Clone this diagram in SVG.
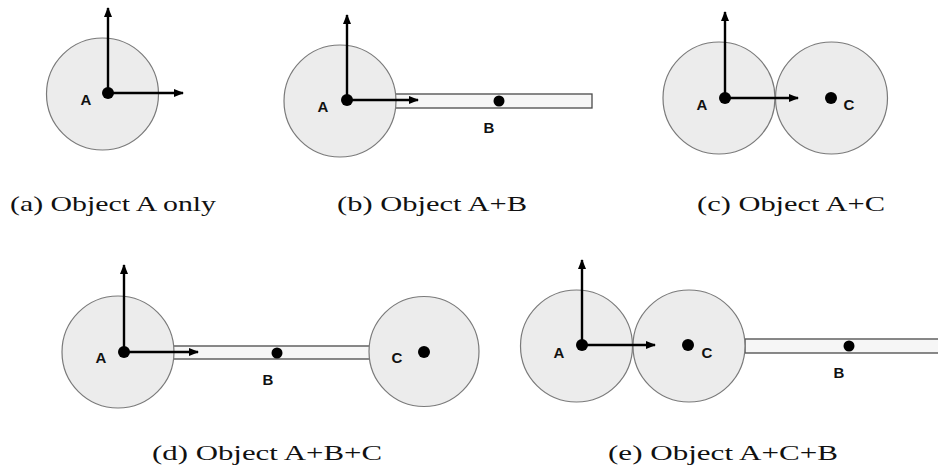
<svg xmlns="http://www.w3.org/2000/svg" width="938" height="470" viewBox="0 0 938 470">
<style>
.disc{fill:#ececec;stroke:#7a7a7a;stroke-width:1.2}
.bar{fill:#f6f6f6;stroke:#4a4a4a;stroke-width:1.3}
.dot{fill:#000}
.ax{stroke:#000;stroke-width:2.4;fill:none;marker-end:url(#ah)}
.lbl{font-family:"Liberation Sans",Arial,sans-serif;font-weight:bold;font-size:15px;fill:#111;text-anchor:middle}
.cap{font-family:"Liberation Serif","Times New Roman",serif;font-size:22px;fill:#111}
</style>
<defs>
<marker id="ah" markerUnits="userSpaceOnUse" markerWidth="10" markerHeight="8" refX="9" refY="4" orient="auto">
<path d="M0,0 L10,4 L0,8 Z" fill="#000"/>
</marker>
</defs>
<rect width="938" height="470" fill="#fff"/>

<g id="panel-a">
<g id="a-A"><circle class="disc" cx="102.5" cy="94" r="56"/><circle class="dot" cx="108" cy="93" r="6"/><text class="lbl" x="86" y="105">A</text></g>
<text class="cap" x="10" y="211" textLength="206" lengthAdjust="spacingAndGlyphs">(a) Object A only</text>
</g>

<g id="panel-b">
<g id="b-B"><rect class="bar" x="395" y="94" width="197" height="14"/><circle class="dot" cx="499" cy="101" r="5.5"/><text class="lbl" x="489" y="133">B</text></g>
<g id="b-A"><circle class="disc" cx="340" cy="101" r="56"/><circle class="dot" cx="347" cy="100" r="6"/><text class="lbl" x="323" y="112">A</text></g>
<text class="cap" x="337" y="211" textLength="190" lengthAdjust="spacingAndGlyphs">(b) Object A+B</text>
</g>

<g id="panel-c">
<g id="c-A"><circle class="disc" cx="719" cy="98" r="56"/><circle class="dot" cx="725" cy="98" r="6"/><text class="lbl" x="702" y="110">A</text></g>
<g id="c-C"><circle class="disc" cx="831.5" cy="98" r="56"/><circle class="dot" cx="831" cy="98" r="6"/><text class="lbl" x="849" y="110">C</text></g>
<text class="cap" x="697" y="211" textLength="188" lengthAdjust="spacingAndGlyphs">(c) Object A+C</text>
</g>

<g id="panel-d">
<g id="d-B"><rect class="bar" x="173" y="346" width="197" height="13"/><circle class="dot" cx="277" cy="353" r="5.5"/><text class="lbl" x="268" y="385">B</text></g>
<g id="d-A"><circle class="disc" cx="118" cy="352" r="56"/><circle class="dot" cx="124" cy="352" r="6"/><text class="lbl" x="101" y="363">A</text></g>
<g id="d-C"><circle class="disc" cx="424" cy="351.5" r="55"/><circle class="dot" cx="424" cy="352" r="6"/><text class="lbl" x="397" y="363">C</text></g>
<text class="cap" x="152" y="460" textLength="230" lengthAdjust="spacingAndGlyphs">(d) Object A+B+C</text>
</g>

<g id="panel-e">
<g id="e-B"><rect class="bar" x="745" y="339" width="200" height="14"/><circle class="dot" cx="849" cy="346" r="5.5"/><text class="lbl" x="839" y="378">B</text></g>
<g id="e-A"><circle class="disc" cx="576.5" cy="346" r="56"/><circle class="dot" cx="582" cy="345" r="6"/><text class="lbl" x="559" y="358">A</text></g>
<g id="e-C"><circle class="disc" cx="689" cy="346" r="56"/><circle class="dot" cx="688" cy="345" r="6"/><text class="lbl" x="707" y="358">C</text></g>
<text class="cap" x="608" y="460" textLength="230" lengthAdjust="spacingAndGlyphs">(e) Object A+C+B</text>
</g>

<g id="connectors">
<line class="ax" x1="108" y1="93" x2="108" y2="8"/>
<line class="ax" x1="108" y1="93" x2="183" y2="93"/>
<line class="ax" x1="347" y1="100" x2="347" y2="15"/>
<line class="ax" x1="347" y1="100" x2="418" y2="100"/>
<line class="ax" x1="725" y1="98" x2="725" y2="12"/>
<line class="ax" x1="725" y1="98" x2="798" y2="98"/>
<line class="ax" x1="124" y1="352" x2="124" y2="265"/>
<line class="ax" x1="124" y1="352" x2="198" y2="352"/>
<line class="ax" x1="582" y1="345" x2="582" y2="260"/>
<line class="ax" x1="582" y1="345" x2="655" y2="345"/>
</g>
</svg>
